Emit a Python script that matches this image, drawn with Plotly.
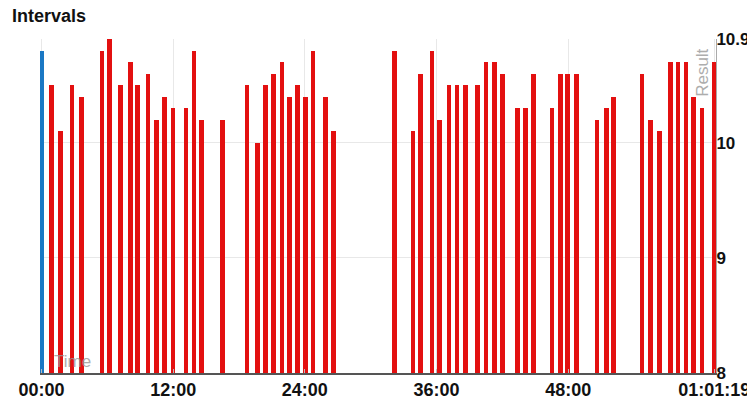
import plotly.graph_objects as go

# interval finish times (seconds from start) and results
times = [55, 104, 168, 219, 332, 373, 432, 487, 526, 583,
         629, 674, 720, 791, 833, 875, 991, 1124, 1182, 1225,
         1270, 1316, 1357, 1401, 1443, 1485, 1553, 1598, 1930, 2032,
         2072, 2136, 2177, 2227, 2272, 2318, 2385, 2431, 2476, 2522,
         2604, 2646, 2691, 2792, 2837, 2877, 2925, 3038, 3089, 3129,
         3284, 3329, 3380, 3439, 3481, 3524, 3566, 3612, 3679]
results = [10.5, 10.1, 10.5, 10.4, 10.8, 10.9, 10.5, 10.7, 10.5, 10.6,
           10.2, 10.4, 10.3, 10.3, 10.8, 10.2, 10.2, 10.5, 10.0, 10.5,
           10.6, 10.7, 10.4, 10.5, 10.4, 10.8, 10.4, 10.1, 10.8, 10.1,
           10.6, 10.8, 10.2, 10.5, 10.5, 10.5, 10.5, 10.7, 10.7, 10.6,
           10.3, 10.3, 10.6, 10.3, 10.6, 10.6, 10.6, 10.2, 10.3, 10.4,
           10.6, 10.2, 10.1, 10.7, 10.7, 10.7, 10.4, 10.3, 10.7]

# starting marker
start_time = [0]
start_result = [10.8]

x_tickvals = [0, 720, 1440, 2160, 2880, 3679]
x_ticktext = ["00:00", "12:00", "24:00", "36:00", "48:00", "01:01:19"]
y_tickvals = [8, 9, 10, 10.9]
y_ticktext = ["8", "9", "10", "10.9"]

fig = go.Figure()
fig.add_trace(go.Bar(x=times, y=results, width=25, marker_color="#e31010",
                     marker_line_width=0))
fig.add_trace(go.Bar(x=start_time, y=start_result, width=25, marker_color="#1a78c4",
                     marker_line_width=0))

# page body has an 8px margin, so the figure is a bit smaller than the window
fig.update_layout(
    width=747, height=393,
    margin=dict(l=32, r=39, t=31, b=28, autoexpand=False),
    plot_bgcolor="white", paper_bgcolor="white",
    showlegend=False,
    font=dict(family="Liberation Sans, Arial, sans-serif"),
    title=dict(text="<b>Intervals</b>", x=4 / 747, xanchor="left",
               y=0.98, yanchor="middle", font=dict(size=18, color="#111")),
    bargap=0,
)

fig.update_xaxes(
    range=[-8, 3688], automargin=False,
    tickvals=x_tickvals, ticktext=x_ticktext,
    tickfont=dict(size=18, color="#111", weight="bold"),
    showgrid=True, gridcolor="#e8e8e8",
    showline=True, linecolor="#555", linewidth=1.5,
    ticks="inside", ticklen=4, tickcolor="#bbb",
    zeroline=False,
)
fig.update_yaxes(
    range=[8, 10.9], side="right", automargin=False,
    tickvals=y_tickvals, ticktext=y_ticktext,
    tickfont=dict(size=17, color="#111", weight="bold"),
    ticklabelstandoff=-4,
    showgrid=True, gridcolor="#e8e8e8",
    showline=True, linecolor="#aaa", linewidth=1,
    zeroline=False,
)

fig.add_annotation(text="Time", xref="paper", yref="paper", x=0.0173, y=0,
                   xanchor="left", yanchor="bottom", showarrow=False,
                   font=dict(size=17, color="#999"), opacity=0.8)
fig.add_annotation(text="Result", xref="paper", yref="paper", x=0.981, y=0.977,
                   xanchor="center", yanchor="top", textangle=-90, showarrow=False,
                   font=dict(size=17, color="#999"), opacity=0.8)

fig.write_html("out.html")
